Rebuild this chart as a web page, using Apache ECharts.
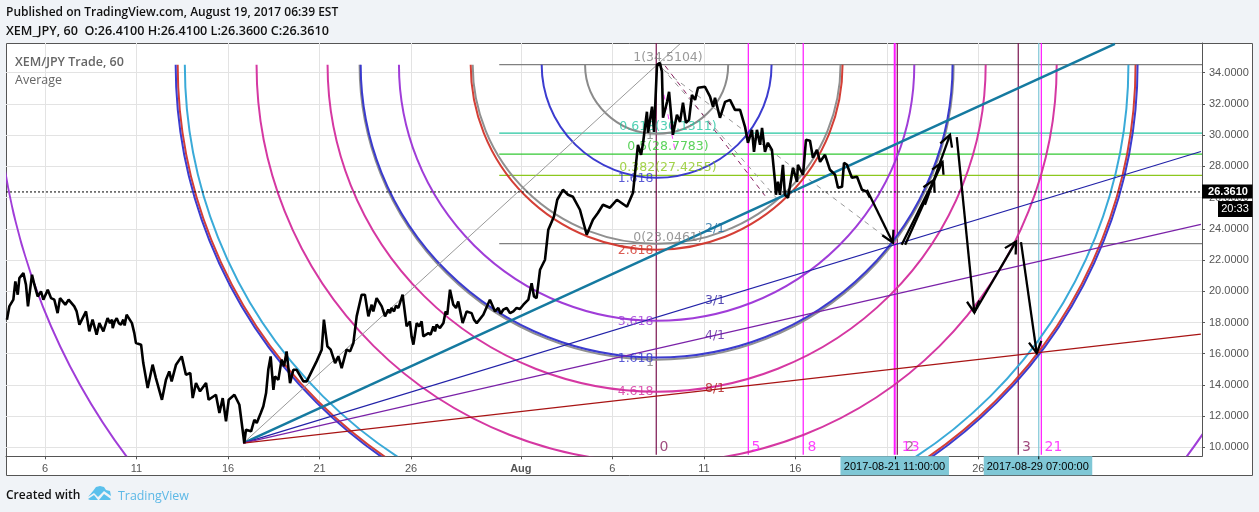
<!DOCTYPE html>
<html>
<head>
<meta charset="utf-8">
<style>
  html, body { margin: 0; padding: 0; background: #f0f3f7; }
  #chart { width: 1259px; height: 512px; }
</style>
<script src="https://cdn.jsdelivr.net/npm/echarts@6/dist/echarts.min.js"></script>
</head>
<body>
<div id="chart"></div>
<script>
// x is measured in days since 1 Jul 2017 (day 31 = Aug 1)
const tickDays = [5, 10, 15, 20, 25, 31, 36, 41, 46, 51, 56];
const tickLabels = ['6', '11', '16', '21', '26', 'Aug', '6', '11', '16', '21', '26'];
const priceTicks = [10, 12, 14, 16, 18, 20, 22, 24, 26, 28, 30, 32, 34];

const lastPrice = 26.361;
const countdown = '20:33';

const priceDays = [
  2.92, 3.05, 3.27, 3.38, 3.51, 3.60, 3.82, 3.96, 4.07, 4.29, 4.42, 4.60, 4.78, 4.91, 5.15, 5.33, 5.51, 5.69, 5.82, 6.11,
  6.29, 6.60, 6.88, 7.24, 7.42, 7.60, 7.82, 7.97, 8.19, 8.42, 8.70, 8.92, 9.15, 9.46, 9.75, 9.97, 10.25, 10.37, 10.61, 10.88,
  11.06, 11.39, 11.61, 11.79, 11.92, 12.16, 12.47, 12.70, 12.94, 13.07, 13.25, 13.47, 13.80, 13.94, 14.34, 14.53, 14.71, 14.89, 15.04, 15.35,
  15.62, 15.89, 15.98, 16.26, 16.44, 16.57, 16.79, 16.93, 17.08, 17.20, 17.33, 17.48, 17.57, 17.75, 17.93, 18.06, 18.20, 18.39, 18.57, 18.75,
  19.12, 19.30, 19.57, 19.84, 20.12, 20.24, 20.43, 20.61, 20.85, 21.03, 21.21, 21.48, 21.85, 22.03, 22.30, 22.48, 22.67, 23.12, 23.40, 23.58,
  23.94, 24.31, 24.54, 24.76, 25.13, 25.31, 25.67, 25.95, 26.40, 26.77, 27.13, 27.31, 27.58, 27.82, 28.04, 28.31, 28.59, 28.95, 29.31, 29.59,
  30.04, 30.41, 30.77, 31.14, 31.41, 31.59, 31.72, 31.86, 32.05, 32.32, 32.50, 32.81, 32.99, 33.30, 33.58, 33.85, 34.23, 34.60, 34.94, 35.22,
  35.49, 35.87, 36.25, 36.80, 37.13, 37.40, 37.57, 37.68, 37.89, 37.95, 38.17, 38.28, 38.44, 38.60, 38.71, 38.77, 38.99, 39.10, 39.31, 39.53,
  39.70, 39.86, 40.02, 40.19, 40.35, 40.52, 40.68, 41.06, 41.34, 41.50, 41.61, 41.88, 42.16, 42.43, 42.70, 42.98, 43.25, 43.41, 43.63, 43.74,
  43.90, 44.07, 44.18, 44.34, 44.50, 44.72, 44.89, 44.94, 45.05, 45.16, 45.32, 45.43, 45.60, 45.87, 46.09, 46.14, 46.42, 46.58, 46.80, 46.96,
  47.18, 47.35, 47.62, 47.89, 48.17, 48.33, 48.55, 48.66, 48.82, 49.09, 49.37, 49.64, 49.91, 50.08
];
const priceValues = [
  18.18, 19.03, 19.46, 20.63, 19.78, 20.84, 21.16, 20.42, 19.03, 21.06, 20.42, 19.67, 19.99, 19.46, 20.10, 19.56, 19.46, 18.60, 19.56, 19.14,
  19.46, 19.03, 17.86, 18.71, 17.43, 18.18, 17.22, 17.96, 17.43, 18.28, 17.64, 18.28, 17.86, 18.50, 17.96, 16.68, 16.58, 15.40, 13.80, 15.30,
  14.44, 13.05, 14.33, 14.87, 14.23, 15.30, 15.83, 14.65, 14.76, 13.16, 14.12, 13.59, 14.12, 13.05, 13.37, 12.20, 13.16, 11.67, 13.05, 13.37,
  12.73, 10.28, 11.13, 11.03, 11.77, 11.56, 12.20, 12.63, 13.48, 14.97, 15.83, 13.69, 14.55, 14.33, 15.62, 15.19, 16.15, 14.12, 14.97, 14.97,
  14.23, 14.23, 14.87, 15.51, 16.26, 18.18, 16.47, 16.26, 15.40, 15.83, 15.08, 16.26, 16.68, 18.39, 19.78, 19.78, 18.39, 19.56, 19.03, 18.39,
  18.93, 18.93, 19.78, 17.75, 16.58, 17.96, 17.11, 17.32, 17.86, 17.96, 20.10, 19.14, 19.35, 17.96, 18.71, 18.60, 17.96, 18.50, 19.46, 18.71,
  18.82, 18.60, 18.93, 19.14, 19.46, 20.52, 19.67, 19.56, 21.38, 22.02, 23.94, 24.79, 25.86, 26.50, 26.18, 26.05, 25.22, 23.62, 24.58, 25.03,
  25.54, 25.35, 25.86, 25.41, 26.31, 29.38, 28.74, 29.51, 31.50, 30.15, 31.82, 30.21, 34.50, 34.63, 34.06, 31.11, 32.13, 32.77, 30.02, 31.30,
  30.85, 32.07, 30.79, 30.98, 32.58, 32.26, 33.03, 33.10, 32.46, 31.82, 32.39, 31.11, 32.13, 32.26, 31.62, 31.62, 30.53, 29.51, 30.34, 28.93,
  30.34, 29.38, 30.47, 28.93, 29.51, 29.06, 27.01, 26.18, 27.01, 26.18, 28.10, 26.18, 25.99, 27.91, 27.01, 28.10, 27.46, 29.70, 29.64, 28.55,
  29.06, 28.29, 28.74, 27.78, 27.46, 26.63, 26.69, 28.23, 28.10, 27.27, 27.33, 26.50, 26.37, 25.99
];

const detailDays = [
  6.73, 8.55, 8.66, 8.81, 9.03, 9.28, 9.35, 9.88, 21.67, 22.85, 22.94, 23.76, 23.85, 24.07, 24.18, 24.94, 25.03,
  25.45, 25.58, 26.07, 26.22, 26.31, 26.58, 26.89, 26.98, 27.46, 28.44, 29.77, 29.90, 30.23, 30.59, 30.95
];
const detailValues = [
  18.71, 17.96, 18.18, 18.07, 17.96, 18.18, 17.81, 17.32, 16.15, 19.14, 18.71, 18.82, 18.60, 18.71, 19.07, 18.07, 17.11,
  17.75, 18.07, 17.22, 17.75, 17.43, 17.64, 18.71, 18.50, 18.93, 18.18, 18.93, 18.56, 18.93, 18.71, 18.86
];

// fib arcs all hang from one centre: [horizontal radius in days, value at the bottom of the arc]
const arcCentreDay = 38.42;
const arcTopValue = 34.51;
const arcRadiusDays = [3.91, 6.28, 10.05, 10.16, 14.08, 16.23, 16.17, 17.98, 21.86, 25.78, 26.17, 26.28, 36.07];
const arcBottomValues = [30.09, 27.27, 23.05, 22.66, 18.11, 15.62, 15.75, 13.57, 9.02, 4.47, 4.02, 3.90, -7.57];
const arcColors = ['#858585', '#3232cc', '#8a8a8a', '#d2352b', '#9b33d6', '#8a8a8a', '#3232cc', '#d32d9d', '#d32d9d', '#2fa5d6', '#d2352b', '#3232cc', '#9b33d6'];

// fan from the July low
const fanStart = [15.83, 10.27];
const fanEndDays = [39.70, 63.46, 68.16, 68.16, 68.16];
const fanEndValues = [35.85, 35.85, 28.95, 24.28, 17.25];
const fanColors = ['#999999', '#157aa0', '#2222a8', '#7a22a8', '#a81414'];
const fanWidths = [1, 2.5, 1.2, 1.2, 1.2];

// horizontal retracement levels
const fibStartDay = 29.82;
const fibValues = [34.5104, 30.1311, 28.7783, 27.4255, 23.0461];
const fibColors = ['#808080', '#26c6a0', '#33c833', '#8cc81e', '#808080'];

// time zones
const zoneDays = [43.43, 46.43, 51.43, 59.44, 38.40, 51.57, 58.18];
const zoneColors = ['#ff14ff', '#ff14ff', '#ff14ff', '#ff14ff', '#7a1450', '#7a1450', '#7a1450'];
const zoneWidths = [1.2, 1.2, 2, 1.2, 1.2, 1.2, 1.2];
const cursorDay = 59.30;

const dashedFrom = [[38.44, 34.49], [38.71, 34.31], [38.88, 34.44], [38.71, 33.22]];
const dashedTo = [[51.33, 23.11], [45.05, 25.86], [44.34, 26.12], [39.42, 29.06]];
const dashedColors = ['#999999', '#999999', '#8a2060', '#ff40ff'];

const arrowFrom = [[49.91, 26.50], [51.81, 22.98], [52.00, 22.98], [53.08, 25.54], [54.82, 29.87], [55.78, 18.64], [58.33, 23.15]];
const arrowTo = [[51.33, 23.11], [53.58, 27.14], [54.04, 28.29], [54.45, 30.02], [55.78, 18.64], [58.06, 23.19], [59.19, 16.04]];

const fibTexts = ['1(34.5104)', '0.618(30.1311)', '0.5(28.7783)', '0.382(27.4255)', '0(23.0461)'];
const fibTextDay = 39.04;
const fibTextValues = [34.95, 30.55, 29.23, 27.89, 23.45];

const arcTexts = ['1.618', '2.618', '3.618', '1.618', '4.618'];
const arcTextDay = 37.27;
const arcTextValues = [27.2, 22.61, 18.07, 15.68, 13.55];
const arcTextColors = ['#3232cc', '#d2352b', '#9b33d6', '#3232cc', '#d32d9d'];
const unitTextDay = 38.06;
const unitTextValues = [29.96, 15.44];

const fanTexts = ['2/1', '3/1', '4/1', '8/1'];
const fanTextDay = 41.61;
const fanTextValues = [24.0, 19.41, 17.17, 13.78];
const fanTextColors = ['#1a6aa0', '#2a1ea0', '#5a1ea0', '#b01414'];

const zoneTexts = ['0', '5', '8', '2', '13', '3', '21'];
const zoneTextDays = [38.58, 43.61, 46.66, 52.0, 51.82, 58.38, 59.62];
const zoneTextColors = ['#8a2060', '#ff14ff', '#ff14ff', '#8a5070', '#ff14ff', '#8a2060', '#ff14ff'];
const zoneTextValue = 10.0;

const dateTagDays = [51.47, 59.30];
const dateTagTexts = ['2017-08-21 11:00:00', '2017-08-29 07:00:00'];

const xMin = 2.869, xMax = 68.22, yMin = 9.43, yMax = 35.9;
const annotationFont = '"DejaVu Sans", sans-serif';
const headerFont = '"Open Sans", sans-serif';

const pricePoints = priceDays.map((d, i) => [d, priceValues[i]])
  .concat(detailDays.map((d, i) => [d, detailValues[i]]))
  .sort((a, b) => a[0] - b[0]);

function lineSeries(data, color, width, type, z) {
  return {
    type: 'line', data: data, showSymbol: false, silent: true, z: z || 3,
    lineStyle: { color: color, width: width, type: type || 'solid' }
  };
}

function labelSeries(days, values, texts, colors, align) {
  return {
    type: 'scatter', symbolSize: 0, silent: true, z: 6,
    data: texts.map((t, i) => ({
      value: [Array.isArray(days) ? days[i] : days, values[i]],
      label: {
        show: true, position: 'inside', formatter: t, align: align || 'center', verticalAlign: 'middle',
        fontFamily: annotationFont, fontSize: 12.5, color: Array.isArray(colors) ? colors[i] : colors
      }
    }))
  };
}

// semicircle below the top line, ends sit on arcTopValue
function renderArc(params, api) {
  const i = params.dataIndex;
  const left = api.coord([api.value(0) - api.value(1), arcTopValue]);
  const right = api.coord([api.value(0) + api.value(1), arcTopValue]);
  const bottom = api.coord([api.value(0), api.value(2)]);
  const rx = (right[0] - left[0]) / 2;
  const ry = bottom[1] - left[1];
  return {
    type: 'path',
    shape: { pathData: `M${left[0]} ${left[1]} A${rx} ${ry} 0 0 0 ${right[0]} ${right[1]}` },
    style: { fill: null, stroke: arcColors[i], lineWidth: 2, opacity: 0.95 }
  };
}

function renderArrow(params, api) {
  const a = api.coord([api.value(0), api.value(1)]);
  const b = api.coord([api.value(2), api.value(3)]);
  const ang = Math.atan2(b[1] - a[1], b[0] - a[0]);
  const head = 13, spread = 0.5;
  const barb = s => [b[0] - head * Math.cos(ang + s), b[1] - head * Math.sin(ang + s)];
  const lineStyle = { fill: null, stroke: '#000', lineWidth: 2.3 };
  return {
    type: 'group',
    children: [
      { type: 'polyline', shape: { points: [a, b] }, style: lineStyle },
      { type: 'polyline', shape: { points: [barb(spread), b, barb(-spread)] }, style: lineStyle }
    ]
  };
}

function renderDateTag(params, api) {
  const p = api.coord([api.value(0), yMin]);
  return {
    type: 'group',
    children: [
      { type: 'rect', shape: { x: p[0] - 55, y: p[1], width: 108.5, height: 19 }, style: { fill: '#7fc7d6' } },
      { type: 'line', shape: { x1: p[0], y1: p[1], x2: p[0], y2: p[1] + 3 }, style: { stroke: '#000', lineWidth: 1 } },
      {
        type: 'text',
        style: {
          text: dateTagTexts[params.dataIndex], x: p[0] - 1, y: p[1] + 10.5, fill: '#000', textAlign: 'center',
          textVerticalAlign: 'middle', font: '11px "Liberation Sans", sans-serif'
        }
      }
    ]
  };
}

function renderPriceTag(params, api) {
  const p = api.coord([xMax, api.value(0)]);
  return {
    type: 'group',
    children: [
      { type: 'rect', shape: { x: p[0], y: p[1] - 7.5, width: 50.5, height: 14 }, style: { fill: '#000' } },
      {
        type: 'text',
        style: {
          text: lastPrice.toFixed(4), x: p[0] + 26, y: p[1], fill: '#fff', textAlign: 'center',
          textVerticalAlign: 'middle', font: 'bold 11px "Liberation Sans", sans-serif'
        }
      },
      { type: 'rect', shape: { x: p[0] + 16, y: p[1] + 9, width: 34.5, height: 16 }, style: { fill: '#000' } },
      {
        type: 'text',
        style: {
          text: countdown, x: p[0] + 33, y: p[1] + 17, fill: '#fff', textAlign: 'center',
          textVerticalAlign: 'middle', font: '11px "Liberation Sans", sans-serif'
        }
      }
    ]
  };
}

const series = [];

fibValues.forEach((v, i) => {
  series.push(lineSeries([[fibStartDay, v], [xMax, v]], fibColors[i], 1.2));
});
series.push(lineSeries([[xMin, lastPrice], [xMax, lastPrice]], '#000', 1, [2, 2], 8));

zoneDays.forEach((d, i) => {
  series.push(lineSeries([[d, yMin + 0.1], [d, yMax]], zoneColors[i], zoneWidths[i]));
});
series.push(lineSeries([[cursorDay, yMin], [cursorDay, yMax]], '#7fc7d6', 1.2));

series.push({
  type: 'custom', renderItem: renderArc, clip: true, silent: true, z: 4,
  data: arcRadiusDays.map((r, i) => [arcCentreDay, r, arcBottomValues[i]])
});

fanEndDays.forEach((d, i) => {
  series.push(lineSeries([fanStart, [d, fanEndValues[i]]], fanColors[i], fanWidths[i], 'solid', 5));
});

dashedFrom.forEach((from, i) => {
  series.push(lineSeries([from, dashedTo[i]], dashedColors[i], 1, [5, 5]));
});

series.push(lineSeries(pricePoints, '#000', 2.6, 'solid', 7));

series.push({
  type: 'custom', renderItem: renderArrow, clip: true, silent: true, z: 7,
  data: arrowFrom.map((from, i) => [from[0], from[1], arrowTo[i][0], arrowTo[i][1]])
});

series.push(labelSeries(fibTextDay, fibTextValues, fibTexts, fibColors));
series.push(labelSeries(arcTextDay, arcTextValues, arcTexts, arcTextColors));
series.push(labelSeries(unitTextDay, unitTextValues, ['1', '1'], '#808080'));
series.push(labelSeries(fanTextDay, fanTextValues, fanTexts, fanTextColors));
series.push({
  type: 'scatter', symbolSize: 0, silent: true, z: 6,
  data: zoneTexts.map((t, i) => ({
    value: [zoneTextDays[i], zoneTextValue],
    label: {
      show: true, position: 'inside', formatter: t, align: 'left', verticalAlign: 'middle',
      fontFamily: annotationFont, fontSize: 14, color: zoneTextColors[i]
    }
  }))
});

series.push({ type: 'custom', renderItem: renderDateTag, silent: true, z: 9, data: dateTagDays.map(d => [d]) });
series.push({ type: 'custom', renderItem: renderPriceTag, silent: true, z: 9, data: [[lastPrice]] });

const chart = echarts.init(document.getElementById('chart'));
chart.setOption({
  animation: false,
  backgroundColor: '#f0f3f7',
  title: [
    { text: 'Published on TradingView.com, August 19, 2017 06:39 EST', left: 6, top: 7, padding: 0, textStyle: { fontFamily: headerFont, fontSize: 12, fontWeight: 600, color: '#111' } },
    { text: 'XEM_JPY, 60  O:26.4100 H:26.4100 L:26.3600 C:26.3610', left: 6, top: 25, padding: 0, textStyle: { fontFamily: headerFont, fontSize: 12.6, fontWeight: 600, color: '#111' } },
    { text: 'XEM/JPY Trade, 60', left: 15, top: 56, padding: 0, textStyle: { fontFamily: headerFont, fontSize: 12.5, fontWeight: 600, color: '#666' } },
    { text: 'Average', left: 15, top: 74, padding: 0, textStyle: { fontFamily: headerFont, fontSize: 12.5, fontWeight: 400, color: '#666' } },
    { text: 'Created with', left: 6, top: 490, padding: 0, textStyle: { fontFamily: headerFont, fontSize: 12, fontWeight: 600, color: '#111' } },
    { text: 'TradingView', left: 118, top: 490, padding: 0, textStyle: { fontFamily: headerFont, fontSize: 12.4, fontWeight: 400, color: '#5cb8e6' } }
  ],
  graphic: [
    { type: 'rect', z: -1, shape: { x: 6.5, y: 43.5, width: 1246, height: 432 }, style: { fill: '#fff', stroke: '#555', lineWidth: 1 } },
    { type: 'polygon', shape: { points: [[88, 497], [93, 491], [96, 487], [100, 486], [104, 487], [106, 490], [110, 491], [111, 496], [104, 491], [98, 497], [94, 493]] }, style: { fill: '#5bc0ec' } },
    { type: 'polygon', shape: { points: [[88, 499], [94, 495], [98, 500], [90, 500]] }, style: { fill: '#5bc0ec' } },
    { type: 'polygon', shape: { points: [[99, 500], [104, 494], [111, 499], [110, 500]] }, style: { fill: '#5bc0ec' } }
  ],
  grid: { left: 6, top: 43, width: 1196, height: 413.3, containLabel: false, show: false },
  xAxis: {
    type: 'value', min: xMin, max: xMax,
    axisLine: { onZero: false, lineStyle: { color: '#555' } },
    axisTick: { length: 3, customValues: tickDays, lineStyle: { color: '#555' } },
    axisLabel: {
      customValues: tickDays, color: '#555', fontFamily: '"Liberation Sans", Arial, sans-serif', fontSize: 11, margin: 7,
      formatter: v => {
        const t = tickLabels[tickDays.indexOf(v)];
        return t === 'Aug' ? '{b|Aug}' : t;
      },
      rich: { b: { fontWeight: 'bold', color: '#555', fontSize: 11, fontFamily: '"Liberation Sans", Arial, sans-serif' } }
    },
    splitLine: { show: true, lineStyle: { color: '#e3e3e3', width: 1 } }
  },
  yAxis: {
    type: 'value', position: 'right', min: yMin, max: yMax,
    axisLine: { show: true, lineStyle: { color: '#555' } },
    axisTick: { show: true, length: 3, customValues: priceTicks, lineStyle: { color: '#555' } },
    axisLabel: {
      customValues: priceTicks, color: '#555', fontFamily: '"Liberation Sans", Arial, sans-serif', fontSize: 11, margin: 7,
      formatter: v => v.toFixed(4)
    },
    splitLine: { show: true, lineStyle: { color: '#e3e3e3', width: 1 } }
  },
  series: series
});
</script>
</body>
</html>
